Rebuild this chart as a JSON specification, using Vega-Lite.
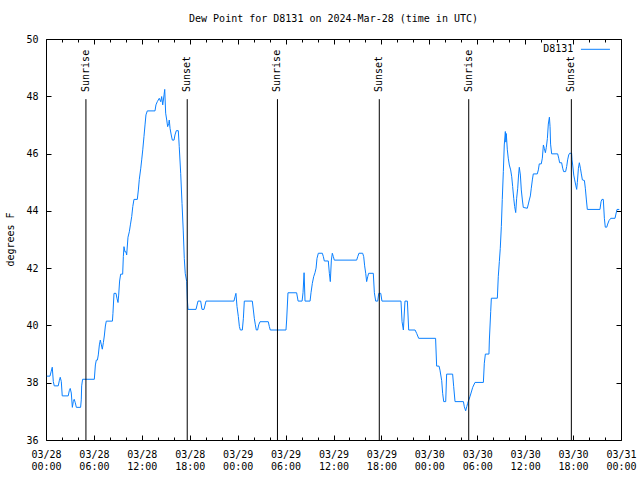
{
  "$schema": "https://vega.github.io/schema/vega-lite/v6.json",
  "width": 575,
  "height": 401,
  "autosize": "none",
  "padding": {"left": 46, "top": 39, "right": 19, "bottom": 40},
  "background": "white",
  "title": {"text": "Dew Point for D8131 on 2024-Mar-28 (time in UTC)", "font": "DejaVu Sans Mono", "fontSize": 10, "fontWeight": "normal", "color": "black", "offset": 10, "anchor": "middle"},
  "config": {
    "view": {"stroke": "black", "strokeWidth": 1},
    "axis": {"domain": false, "grid": false, "labelFont": "DejaVu Sans Mono", "labelFontSize": 10, "labelColor": "black", "tickColor": "black", "tickWidth": 1, "titleFont": "DejaVu Sans Mono", "titleFontSize": 10, "titleFontWeight": "normal", "titleColor": "black"}
  },
  "datasets": {
    "sun": [
      {"t": "2024-03-28T05:00:00Z", "event": "Sunrise"},
      {"t": "2024-03-28T17:41:00Z", "event": "Sunset"},
      {"t": "2024-03-29T04:59:00Z", "event": "Sunrise"},
      {"t": "2024-03-29T17:44:00Z", "event": "Sunset"},
      {"t": "2024-03-30T04:56:00Z", "event": "Sunrise"},
      {"t": "2024-03-30T17:47:00Z", "event": "Sunset"}
    ],
    "dew": [
      {"t": "2024-03-28T00:06:00Z", "v": 38.23},
      {"t": "2024-03-28T00:30:00Z", "v": 38.23},
      {"t": "2024-03-28T00:38:00Z", "v": 38.38},
      {"t": "2024-03-28T00:47:00Z", "v": 38.54},
      {"t": "2024-03-28T00:55:00Z", "v": 38.04},
      {"t": "2024-03-28T01:02:00Z", "v": 37.89},
      {"t": "2024-03-28T01:32:00Z", "v": 37.89},
      {"t": "2024-03-28T01:40:00Z", "v": 38.07},
      {"t": "2024-03-28T01:47:00Z", "v": 38.19},
      {"t": "2024-03-28T01:55:00Z", "v": 38.04},
      {"t": "2024-03-28T02:02:00Z", "v": 37.54},
      {"t": "2024-03-28T02:47:00Z", "v": 37.54},
      {"t": "2024-03-28T02:55:00Z", "v": 37.72},
      {"t": "2024-03-28T03:02:00Z", "v": 37.80},
      {"t": "2024-03-28T03:10:00Z", "v": 37.64},
      {"t": "2024-03-28T03:18:00Z", "v": 37.14},
      {"t": "2024-03-28T03:25:00Z", "v": 37.34},
      {"t": "2024-03-28T03:32:00Z", "v": 37.42},
      {"t": "2024-03-28T03:40:00Z", "v": 37.30},
      {"t": "2024-03-28T03:48:00Z", "v": 37.14},
      {"t": "2024-03-28T04:20:00Z", "v": 37.14},
      {"t": "2024-03-28T04:25:00Z", "v": 37.40},
      {"t": "2024-03-28T04:28:00Z", "v": 37.89},
      {"t": "2024-03-28T04:35:00Z", "v": 38.12},
      {"t": "2024-03-28T06:03:00Z", "v": 38.12},
      {"t": "2024-03-28T06:11:00Z", "v": 38.62},
      {"t": "2024-03-28T06:18:00Z", "v": 38.79},
      {"t": "2024-03-28T06:26:00Z", "v": 38.79},
      {"t": "2024-03-28T06:33:00Z", "v": 38.97},
      {"t": "2024-03-28T06:41:00Z", "v": 39.32},
      {"t": "2024-03-28T06:48:00Z", "v": 39.49},
      {"t": "2024-03-28T06:56:00Z", "v": 39.32},
      {"t": "2024-03-28T07:03:00Z", "v": 39.17},
      {"t": "2024-03-28T07:11:00Z", "v": 39.40},
      {"t": "2024-03-28T07:18:00Z", "v": 39.63},
      {"t": "2024-03-28T07:26:00Z", "v": 39.98},
      {"t": "2024-03-28T07:33:00Z", "v": 40.15},
      {"t": "2024-03-28T08:19:00Z", "v": 40.15},
      {"t": "2024-03-28T08:23:00Z", "v": 40.42},
      {"t": "2024-03-28T08:31:00Z", "v": 41.12},
      {"t": "2024-03-28T08:46:00Z", "v": 41.12},
      {"t": "2024-03-28T08:53:00Z", "v": 40.95},
      {"t": "2024-03-28T09:01:00Z", "v": 40.80},
      {"t": "2024-03-28T09:06:00Z", "v": 41.06},
      {"t": "2024-03-28T09:13:00Z", "v": 41.55},
      {"t": "2024-03-28T09:21:00Z", "v": 41.79},
      {"t": "2024-03-28T09:36:00Z", "v": 41.79},
      {"t": "2024-03-28T09:41:00Z", "v": 42.40},
      {"t": "2024-03-28T09:46:00Z", "v": 42.75},
      {"t": "2024-03-28T09:53:00Z", "v": 42.57},
      {"t": "2024-03-28T10:01:00Z", "v": 42.57},
      {"t": "2024-03-28T10:06:00Z", "v": 42.46},
      {"t": "2024-03-28T10:16:00Z", "v": 43.08},
      {"t": "2024-03-28T10:26:00Z", "v": 43.27},
      {"t": "2024-03-28T10:34:00Z", "v": 43.51},
      {"t": "2024-03-28T10:44:00Z", "v": 43.80},
      {"t": "2024-03-28T10:52:00Z", "v": 44.15},
      {"t": "2024-03-28T11:01:00Z", "v": 44.40},
      {"t": "2024-03-28T11:26:00Z", "v": 44.40},
      {"t": "2024-03-28T11:34:00Z", "v": 44.73},
      {"t": "2024-03-28T11:41:00Z", "v": 45.10},
      {"t": "2024-03-28T11:52:00Z", "v": 45.49},
      {"t": "2024-03-28T11:59:00Z", "v": 45.78},
      {"t": "2024-03-28T12:07:00Z", "v": 46.13},
      {"t": "2024-03-28T12:16:00Z", "v": 46.59},
      {"t": "2024-03-28T12:24:00Z", "v": 47.00},
      {"t": "2024-03-28T12:31:00Z", "v": 47.35},
      {"t": "2024-03-28T12:41:00Z", "v": 47.49},
      {"t": "2024-03-28T13:39:00Z", "v": 47.49},
      {"t": "2024-03-28T13:46:00Z", "v": 47.70},
      {"t": "2024-03-28T13:56:00Z", "v": 47.81},
      {"t": "2024-03-28T14:11:00Z", "v": 47.93},
      {"t": "2024-03-28T14:22:00Z", "v": 47.81},
      {"t": "2024-03-28T14:29:00Z", "v": 47.99},
      {"t": "2024-03-28T14:37:00Z", "v": 47.70},
      {"t": "2024-03-28T14:47:00Z", "v": 48.05},
      {"t": "2024-03-28T14:52:00Z", "v": 48.24},
      {"t": "2024-03-28T14:59:00Z", "v": 47.41},
      {"t": "2024-03-28T15:07:00Z", "v": 47.17},
      {"t": "2024-03-28T15:14:00Z", "v": 46.94},
      {"t": "2024-03-28T15:22:00Z", "v": 47.05},
      {"t": "2024-03-28T15:26:00Z", "v": 47.17},
      {"t": "2024-03-28T15:32:00Z", "v": 46.88},
      {"t": "2024-03-28T15:41:00Z", "v": 46.65},
      {"t": "2024-03-28T15:49:00Z", "v": 46.47},
      {"t": "2024-03-28T16:02:00Z", "v": 46.47},
      {"t": "2024-03-28T16:09:00Z", "v": 46.65},
      {"t": "2024-03-28T16:19:00Z", "v": 46.80},
      {"t": "2024-03-28T16:34:00Z", "v": 46.80},
      {"t": "2024-03-28T16:41:00Z", "v": 46.24},
      {"t": "2024-03-28T16:52:00Z", "v": 45.31},
      {"t": "2024-03-28T17:02:00Z", "v": 44.26},
      {"t": "2024-03-28T17:11:00Z", "v": 43.33},
      {"t": "2024-03-28T17:19:00Z", "v": 42.34},
      {"t": "2024-03-28T17:26:00Z", "v": 41.82},
      {"t": "2024-03-28T17:37:00Z", "v": 41.53},
      {"t": "2024-03-28T17:42:00Z", "v": 40.89},
      {"t": "2024-03-28T17:47:00Z", "v": 40.56},
      {"t": "2024-03-28T18:47:00Z", "v": 40.56},
      {"t": "2024-03-28T19:02:00Z", "v": 40.85},
      {"t": "2024-03-28T19:22:00Z", "v": 40.85},
      {"t": "2024-03-28T19:32:00Z", "v": 40.56},
      {"t": "2024-03-28T19:47:00Z", "v": 40.56},
      {"t": "2024-03-28T20:02:00Z", "v": 40.85},
      {"t": "2024-03-28T23:32:00Z", "v": 40.85},
      {"t": "2024-03-28T23:40:00Z", "v": 41.00},
      {"t": "2024-03-28T23:47:00Z", "v": 41.12},
      {"t": "2024-03-28T23:55:00Z", "v": 40.66},
      {"t": "2024-03-29T00:05:00Z", "v": 40.31},
      {"t": "2024-03-29T00:13:00Z", "v": 39.96},
      {"t": "2024-03-29T00:20:00Z", "v": 39.84},
      {"t": "2024-03-29T00:35:00Z", "v": 39.84},
      {"t": "2024-03-29T00:43:00Z", "v": 40.25},
      {"t": "2024-03-29T00:50:00Z", "v": 40.85},
      {"t": "2024-03-29T01:50:00Z", "v": 40.85},
      {"t": "2024-03-29T01:58:00Z", "v": 40.54},
      {"t": "2024-03-29T02:05:00Z", "v": 40.25},
      {"t": "2024-03-29T02:13:00Z", "v": 40.02},
      {"t": "2024-03-29T02:20:00Z", "v": 39.84},
      {"t": "2024-03-29T02:30:00Z", "v": 39.84},
      {"t": "2024-03-29T02:38:00Z", "v": 40.02},
      {"t": "2024-03-29T02:48:00Z", "v": 40.13},
      {"t": "2024-03-29T03:50:00Z", "v": 40.13},
      {"t": "2024-03-29T03:58:00Z", "v": 39.96},
      {"t": "2024-03-29T04:05:00Z", "v": 39.84},
      {"t": "2024-03-29T06:03:00Z", "v": 39.84},
      {"t": "2024-03-29T06:08:00Z", "v": 40.19},
      {"t": "2024-03-29T06:18:00Z", "v": 41.14},
      {"t": "2024-03-29T07:23:00Z", "v": 41.14},
      {"t": "2024-03-29T07:34:00Z", "v": 40.85},
      {"t": "2024-03-29T08:04:00Z", "v": 40.85},
      {"t": "2024-03-29T08:11:00Z", "v": 41.14},
      {"t": "2024-03-29T08:19:00Z", "v": 41.84},
      {"t": "2024-03-29T08:26:00Z", "v": 40.85},
      {"t": "2024-03-29T09:04:00Z", "v": 40.85},
      {"t": "2024-03-29T09:11:00Z", "v": 41.14},
      {"t": "2024-03-29T09:21:00Z", "v": 41.47},
      {"t": "2024-03-29T09:31:00Z", "v": 41.70},
      {"t": "2024-03-29T09:41:00Z", "v": 41.84},
      {"t": "2024-03-29T09:49:00Z", "v": 42.00},
      {"t": "2024-03-29T09:56:00Z", "v": 42.34},
      {"t": "2024-03-29T10:06:00Z", "v": 42.52},
      {"t": "2024-03-29T10:36:00Z", "v": 42.52},
      {"t": "2024-03-29T10:44:00Z", "v": 42.40},
      {"t": "2024-03-29T10:51:00Z", "v": 42.25},
      {"t": "2024-03-29T11:21:00Z", "v": 42.25},
      {"t": "2024-03-29T11:29:00Z", "v": 41.82},
      {"t": "2024-03-29T11:36:00Z", "v": 41.53},
      {"t": "2024-03-29T11:44:00Z", "v": 42.28},
      {"t": "2024-03-29T11:51:00Z", "v": 42.52},
      {"t": "2024-03-29T11:59:00Z", "v": 42.40},
      {"t": "2024-03-29T12:06:00Z", "v": 42.28},
      {"t": "2024-03-29T14:54:00Z", "v": 42.28},
      {"t": "2024-03-29T15:02:00Z", "v": 42.40},
      {"t": "2024-03-29T15:11:00Z", "v": 42.52},
      {"t": "2024-03-29T15:39:00Z", "v": 42.52},
      {"t": "2024-03-29T15:47:00Z", "v": 42.40},
      {"t": "2024-03-29T15:54:00Z", "v": 42.08},
      {"t": "2024-03-29T16:02:00Z", "v": 41.82},
      {"t": "2024-03-29T16:09:00Z", "v": 41.53},
      {"t": "2024-03-29T16:17:00Z", "v": 41.70},
      {"t": "2024-03-29T16:24:00Z", "v": 41.82},
      {"t": "2024-03-29T16:59:00Z", "v": 41.82},
      {"t": "2024-03-29T17:07:00Z", "v": 41.14},
      {"t": "2024-03-29T17:17:00Z", "v": 40.85},
      {"t": "2024-03-29T17:32:00Z", "v": 40.85},
      {"t": "2024-03-29T17:40:00Z", "v": 41.12},
      {"t": "2024-03-29T17:55:00Z", "v": 41.12},
      {"t": "2024-03-29T18:04:00Z", "v": 40.85},
      {"t": "2024-03-29T20:27:00Z", "v": 40.85},
      {"t": "2024-03-29T20:35:00Z", "v": 40.13},
      {"t": "2024-03-29T20:45:00Z", "v": 39.84},
      {"t": "2024-03-29T20:57:00Z", "v": 40.85},
      {"t": "2024-03-29T21:15:00Z", "v": 40.85},
      {"t": "2024-03-29T21:25:00Z", "v": 39.84},
      {"t": "2024-03-29T22:13:00Z", "v": 39.84},
      {"t": "2024-03-29T22:25:00Z", "v": 39.72},
      {"t": "2024-03-29T22:40:00Z", "v": 39.55},
      {"t": "2024-03-30T00:47:00Z", "v": 39.55},
      {"t": "2024-03-30T00:55:00Z", "v": 38.58},
      {"t": "2024-03-30T01:13:00Z", "v": 38.58},
      {"t": "2024-03-30T01:20:00Z", "v": 38.44},
      {"t": "2024-03-30T01:33:00Z", "v": 38.07},
      {"t": "2024-03-30T01:40:00Z", "v": 37.63},
      {"t": "2024-03-30T01:48:00Z", "v": 37.34},
      {"t": "2024-03-30T02:03:00Z", "v": 37.34},
      {"t": "2024-03-30T02:10:00Z", "v": 38.30},
      {"t": "2024-03-30T02:55:00Z", "v": 38.30},
      {"t": "2024-03-30T03:03:00Z", "v": 37.86},
      {"t": "2024-03-30T03:13:00Z", "v": 37.34},
      {"t": "2024-03-30T04:16:00Z", "v": 37.34},
      {"t": "2024-03-30T04:23:00Z", "v": 37.16},
      {"t": "2024-03-30T04:33:00Z", "v": 37.02},
      {"t": "2024-03-30T04:41:00Z", "v": 37.16},
      {"t": "2024-03-30T04:48:00Z", "v": 37.28},
      {"t": "2024-03-30T05:05:00Z", "v": 37.51},
      {"t": "2024-03-30T05:26:00Z", "v": 37.84},
      {"t": "2024-03-30T05:43:00Z", "v": 38.01},
      {"t": "2024-03-30T06:46:00Z", "v": 38.01},
      {"t": "2024-03-30T06:53:00Z", "v": 38.68},
      {"t": "2024-03-30T07:01:00Z", "v": 39.00},
      {"t": "2024-03-30T07:28:00Z", "v": 39.00},
      {"t": "2024-03-30T07:31:00Z", "v": 39.49},
      {"t": "2024-03-30T07:41:00Z", "v": 40.48},
      {"t": "2024-03-30T07:46:00Z", "v": 40.95},
      {"t": "2024-03-30T08:31:00Z", "v": 40.95},
      {"t": "2024-03-30T08:38:00Z", "v": 41.70},
      {"t": "2024-03-30T08:46:00Z", "v": 42.23},
      {"t": "2024-03-30T08:53:00Z", "v": 42.69},
      {"t": "2024-03-30T09:01:00Z", "v": 43.45},
      {"t": "2024-03-30T09:08:00Z", "v": 44.40},
      {"t": "2024-03-30T09:16:00Z", "v": 45.37},
      {"t": "2024-03-30T09:23:00Z", "v": 46.30},
      {"t": "2024-03-30T09:31:00Z", "v": 46.77},
      {"t": "2024-03-30T09:35:00Z", "v": 46.40},
      {"t": "2024-03-30T09:38:00Z", "v": 46.70},
      {"t": "2024-03-30T09:46:00Z", "v": 46.13},
      {"t": "2024-03-30T09:53:00Z", "v": 45.84},
      {"t": "2024-03-30T10:01:00Z", "v": 45.60},
      {"t": "2024-03-30T10:11:00Z", "v": 45.43},
      {"t": "2024-03-30T10:19:00Z", "v": 45.19},
      {"t": "2024-03-30T10:26:00Z", "v": 44.85},
      {"t": "2024-03-30T10:34:00Z", "v": 44.44},
      {"t": "2024-03-30T10:41:00Z", "v": 44.15},
      {"t": "2024-03-30T10:49:00Z", "v": 43.94},
      {"t": "2024-03-30T10:56:00Z", "v": 44.44},
      {"t": "2024-03-30T11:04:00Z", "v": 44.79},
      {"t": "2024-03-30T11:11:00Z", "v": 45.29},
      {"t": "2024-03-30T11:16:00Z", "v": 45.52},
      {"t": "2024-03-30T11:24:00Z", "v": 45.25},
      {"t": "2024-03-30T11:31:00Z", "v": 44.73},
      {"t": "2024-03-30T11:39:00Z", "v": 44.38},
      {"t": "2024-03-30T11:46:00Z", "v": 44.12},
      {"t": "2024-03-30T12:16:00Z", "v": 44.09},
      {"t": "2024-03-30T12:24:00Z", "v": 44.24},
      {"t": "2024-03-30T12:31:00Z", "v": 44.38},
      {"t": "2024-03-30T12:39:00Z", "v": 44.52},
      {"t": "2024-03-30T12:46:00Z", "v": 44.79},
      {"t": "2024-03-30T12:54:00Z", "v": 45.08},
      {"t": "2024-03-30T13:01:00Z", "v": 45.29},
      {"t": "2024-03-30T13:31:00Z", "v": 45.29},
      {"t": "2024-03-30T13:39:00Z", "v": 45.43},
      {"t": "2024-03-30T13:46:00Z", "v": 45.64},
      {"t": "2024-03-30T14:01:00Z", "v": 45.64},
      {"t": "2024-03-30T14:09:00Z", "v": 45.84},
      {"t": "2024-03-30T14:17:00Z", "v": 46.30},
      {"t": "2024-03-30T14:24:00Z", "v": 46.18},
      {"t": "2024-03-30T14:32:00Z", "v": 46.03},
      {"t": "2024-03-30T14:39:00Z", "v": 46.22},
      {"t": "2024-03-30T14:47:00Z", "v": 46.53},
      {"t": "2024-03-30T14:54:00Z", "v": 47.03},
      {"t": "2024-03-30T15:02:00Z", "v": 47.27},
      {"t": "2024-03-30T15:07:00Z", "v": 46.94},
      {"t": "2024-03-30T15:11:00Z", "v": 46.33},
      {"t": "2024-03-30T15:19:00Z", "v": 45.99},
      {"t": "2024-03-30T16:04:00Z", "v": 45.99},
      {"t": "2024-03-30T16:12:00Z", "v": 45.84},
      {"t": "2024-03-30T16:19:00Z", "v": 45.68},
      {"t": "2024-03-30T16:34:00Z", "v": 45.68},
      {"t": "2024-03-30T16:42:00Z", "v": 45.49},
      {"t": "2024-03-30T16:49:00Z", "v": 45.37},
      {"t": "2024-03-30T17:04:00Z", "v": 45.37},
      {"t": "2024-03-30T17:12:00Z", "v": 45.55},
      {"t": "2024-03-30T17:19:00Z", "v": 45.78},
      {"t": "2024-03-30T17:27:00Z", "v": 45.95},
      {"t": "2024-03-30T17:34:00Z", "v": 46.01},
      {"t": "2024-03-30T17:49:00Z", "v": 46.01},
      {"t": "2024-03-30T17:52:00Z", "v": 45.78},
      {"t": "2024-03-30T17:57:00Z", "v": 45.60},
      {"t": "2024-03-30T18:05:00Z", "v": 45.25},
      {"t": "2024-03-30T18:12:00Z", "v": 45.08},
      {"t": "2024-03-30T18:20:00Z", "v": 44.90},
      {"t": "2024-03-30T18:27:00Z", "v": 44.75},
      {"t": "2024-03-30T18:32:00Z", "v": 44.99},
      {"t": "2024-03-30T18:40:00Z", "v": 45.49},
      {"t": "2024-03-30T18:47:00Z", "v": 45.68},
      {"t": "2024-03-30T18:55:00Z", "v": 45.49},
      {"t": "2024-03-30T19:02:00Z", "v": 45.29},
      {"t": "2024-03-30T19:10:00Z", "v": 45.08},
      {"t": "2024-03-30T19:25:00Z", "v": 45.06},
      {"t": "2024-03-30T19:32:00Z", "v": 44.79},
      {"t": "2024-03-30T19:40:00Z", "v": 44.38},
      {"t": "2024-03-30T19:47:00Z", "v": 44.05},
      {"t": "2024-03-30T21:22:00Z", "v": 44.05},
      {"t": "2024-03-30T21:30:00Z", "v": 44.32},
      {"t": "2024-03-30T21:37:00Z", "v": 44.40},
      {"t": "2024-03-30T21:47:00Z", "v": 44.40},
      {"t": "2024-03-30T21:55:00Z", "v": 43.74},
      {"t": "2024-03-30T22:02:00Z", "v": 43.43},
      {"t": "2024-03-30T22:13:00Z", "v": 43.43},
      {"t": "2024-03-30T22:20:00Z", "v": 43.54},
      {"t": "2024-03-30T22:30:00Z", "v": 43.66},
      {"t": "2024-03-30T22:43:00Z", "v": 43.74},
      {"t": "2024-03-30T23:15:00Z", "v": 43.74},
      {"t": "2024-03-30T23:22:00Z", "v": 43.89},
      {"t": "2024-03-30T23:30:00Z", "v": 44.05},
      {"t": "2024-03-30T23:47:00Z", "v": 44.05}
    ]
  },
  "layer": [
    {
      "data": {"name": "dew"},
      "mark": {"type": "line", "color": "#0a80ff", "strokeWidth": 1},
      "encoding": {
        "x": {
          "field": "t", "type": "temporal",
          "scale": {"type": "utc", "nice": false, "domain": [1711584000000, 1711843200000]},
          "axis": {"orient": "bottom", "title": null, "values": [1711584000000, 1711605600000, 1711627200000, 1711648800000, 1711670400000, 1711692000000, 1711713600000, 1711735200000, 1711756800000, 1711778400000, 1711800000000, 1711821600000, 1711843200000], "offset": -5, "tickSize": 5, "labelPadding": 9, "labelExpr": "[utcFormat(datum.value, '%m/%d'), utcFormat(datum.value, '%H:%M')]", "labelLineHeight": 12, "labelFlush": false, "labelOverlap": false}
        },
        "y": {
          "field": "v", "type": "quantitative",
          "scale": {"domain": [36, 50], "nice": false, "zero": false},
          "axis": {"orient": "left", "title": "degrees F", "values": [36, 38, 40, 42, 44, 46, 48, 50], "offset": -5, "tickSize": 5, "labelPadding": 8, "titleX": -41, "titleY": 200, "titleAngle": 270, "titleAlign": "center", "titleBaseline": "middle"}
        }
      }
    },
    {
      "data": {"name": "sun"},
      "mark": {"type": "rule", "color": "black", "strokeWidth": 1},
      "encoding": {
        "x": {"field": "t", "type": "temporal", "axis": {"orient": "top", "title": null, "labels": false, "values": [1711584000000, 1711605600000, 1711627200000, 1711648800000, 1711670400000, 1711692000000, 1711713600000, 1711735200000, 1711756800000, 1711778400000, 1711800000000, 1711821600000, 1711843200000], "offset": -5, "tickSize": 5}},
        "y": {"datum": 36, "type": "quantitative", "axis": {"orient": "right", "title": null, "labels": false, "values": [36, 38, 40, 42, 44, 46, 48, 50], "offset": -5, "tickSize": 5}},
        "y2": {"datum": 47.9}
      }
    },
    {
      "data": {"name": "sun"},
      "mark": {"type": "text", "angle": 270, "align": "left", "baseline": "middle", "font": "DejaVu Sans Mono", "fontSize": 10, "color": "black"},
      "encoding": {
        "x": {"field": "t", "type": "temporal", "axis": {"orient": "bottom", "title": null, "labels": false, "values": [1711591200000, 1711598400000, 1711612800000, 1711620000000, 1711634400000, 1711641600000, 1711656000000, 1711663200000, 1711677600000, 1711684800000, 1711699200000, 1711706400000, 1711720800000, 1711728000000, 1711742400000, 1711749600000, 1711764000000, 1711771200000, 1711785600000, 1711792800000, 1711807200000, 1711814400000, 1711828800000, 1711836000000], "offset": -3, "tickSize": 3}},
        "y": {"datum": 48.15, "type": "quantitative", "axis": null},
        "text": {"field": "event"}
      }
    },
    {
      "data": {"values": [{}]},
      "mark": {"type": "rule", "color": "#0a80ff", "strokeWidth": 1},
      "encoding": {
        "x": {"datum": 1711825140000, "type": "temporal", "axis": {"orient": "top", "title": null, "labels": false, "values": [1711591200000, 1711598400000, 1711612800000, 1711620000000, 1711634400000, 1711641600000, 1711656000000, 1711663200000, 1711677600000, 1711684800000, 1711699200000, 1711706400000, 1711720800000, 1711728000000, 1711742400000, 1711749600000, 1711764000000, 1711771200000, 1711785600000, 1711792800000, 1711807200000, 1711814400000, 1711828800000, 1711836000000], "offset": -3, "tickSize": 3}},
        "x2": {"datum": 1711838220000},
        "y": {"datum": 49.64, "type": "quantitative", "axis": null}
      }
    },
    {
      "data": {"values": [{"label": "D8131"}]},
      "mark": {"type": "text", "align": "right", "baseline": "middle", "font": "DejaVu Sans Mono", "fontSize": 10, "color": "black"},
      "encoding": {
        "x": {"datum": 1711821720000, "type": "temporal", "axis": null},
        "y": {"datum": 49.64, "type": "quantitative", "axis": null},
        "text": {"field": "label"}
      }
    }
  ],
  "resolve": {"axis": {"x": "independent", "y": "independent"}}
}
